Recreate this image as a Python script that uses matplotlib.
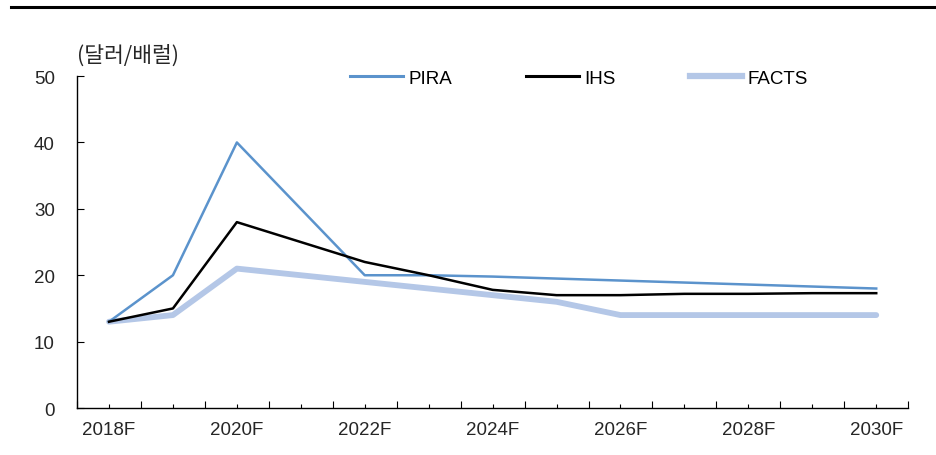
import numpy as np
import matplotlib
matplotlib.use('Agg')
import matplotlib.pyplot as plt
from matplotlib.lines import Line2D

plt.rcParams['font.family'] = ['Liberation Sans', 'Noto Sans CJK KR', 'DejaVu Sans']

# data
years = ['2018F', '2019F', '2020F', '2021F', '2022F', '2023F', '2024F',
         '2025F', '2026F', '2027F', '2028F', '2029F', '2030F']
pira = [13, 20, 40, 30, 20, 20, 19.8, 19.5, 19.2, 18.9, 18.6, 18.3, 18]
ihs = [13, 15, 28, 25, 22, 20, 17.8, 17, 17, 17.2, 17.2, 17.3, 17.3]
facts = [13, 14, 21, 20, 19, 18, 17, 16, 14, 14, 14, 14, 14]
unit_label = '(달러/배럴)'

fs = 13.5
txt = '#262626'

fig = plt.figure(figsize=(9.36, 4.56), dpi=100)
ax = fig.add_axes([0.0823, 0.103, 0.888, 0.728])

x = np.arange(len(years))
ax.plot(x, facts, color='#B4C7E7', lw=4.2, solid_capstyle='round', label='FACTS', zorder=2)
ax.plot(x, pira, color='#5B93CC', lw=1.8, label='PIRA', zorder=3)
ax.plot(x, ihs, color='black', lw=1.8, label='IHS', zorder=4)

ax.set_xlim(-0.5, len(years) - 0.5)
ax.set_ylim(0, 50)
ax.set_yticks(np.arange(0, 51, 10))

ax.set_xticks(x)
ax.set_xticklabels([y if i % 2 == 0 else '' for i, y in enumerate(years)])
ax.set_xticks(np.arange(-0.5, len(years), 1), minor=True)

ax.tick_params(axis='x', which='major', direction='in', length=3, width=0.8, pad=9,
               labelsize=fs, colors='black', labelcolor=txt)
ax.tick_params(axis='x', which='minor', direction='in', length=5, width=0.8)
ax.tick_params(axis='y', direction='in', length=5, width=0.8, pad=16,
               labelsize=fs, labelcolor=txt)

for s in ['top', 'right']:
    ax.spines[s].set_visible(False)
for s in ['left', 'bottom']:
    ax.spines[s].set_linewidth(1.0)

fig.text(0.082, 0.877, unit_label, fontsize=15.5, color=txt,
         family=['Noto Sans CJK KR', 'DejaVu Sans'], va='center', ha='left')

handles = [Line2D([], [], color='#5B93CC', lw=2.2),
           Line2D([], [], color='black', lw=2.2),
           Line2D([], [], color='#B4C7E7', lw=4.5)]
fig.legend(handles, ['PIRA', 'IHS', 'FACTS'], ncol=3, loc='center left',
           bbox_to_anchor=(0.356, 0.826), frameon=False, fontsize=fs,
           handlelength=2.8, handletextpad=0.3, columnspacing=3.95)

fig.add_artist(Line2D([0.012, 1.0], [0.982, 0.982], color='black', lw=2.2,
                      transform=fig.transFigure))

fig.savefig('out.png', dpi=100)
